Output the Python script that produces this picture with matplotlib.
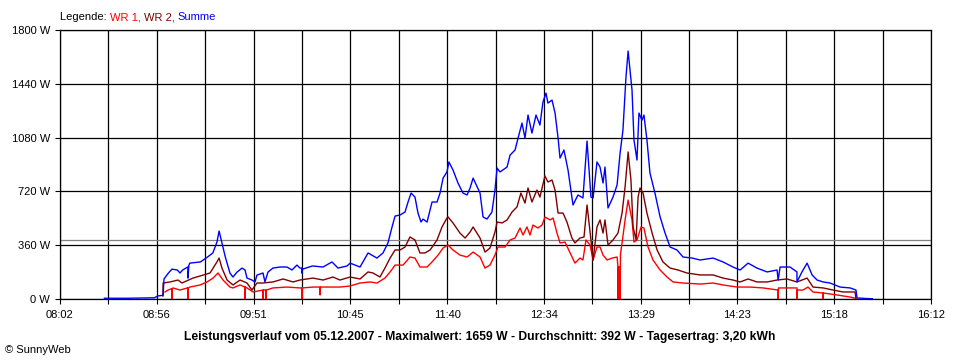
import numpy as np
import matplotlib
matplotlib.use("Agg")
import matplotlib.pyplot as plt

plt.rcParams['font.family'] = ['Liberation Sans', 'DejaVu Sans']

# x axis: minutes since midnight, y axis: power in W
tick_labels = ["08:02", "08:56", "09:51", "10:45", "11:40", "12:34", "13:29", "14:23", "15:18", "16:12"]
t_start, t_end = 482, 972
y_ticks = [0, 360, 720, 1080, 1440, 1800]
average_w = 392

# Summe (blue)
summe = [(507, 5), (520, 5), (535, 8), (537, 20), (540, 25), (540.5, 134), (543, 174), (545, 200),
         (548, 194), (549.5, 174), (551, 194), (554, 215), (554, 140), (554.5, 225), (555, 240),
         (561, 248), (565, 281), (568, 308), (570.3, 381), (571.5, 455), (573, 381), (575, 281),
         (577.6, 174), (579.3, 147), (581.6, 180), (584.4, 207), (586.1, 194), (587.2, 140),
         (590, 127), (591.7, 114), (592.8, 160), (596.2, 174), (597.3, 114), (599, 180),
         (601.8, 207), (605.8, 214), (609.7, 214), (612.5, 194), (615.3, 227), (617, 207),
         (618, 207), (618, 174), (618.5, 200), (624, 221), (630, 214), (635, 248), (638.4, 207),
         (643.5, 221), (645.2, 240), (650.8, 214), (655.3, 308), (660.3, 274), (663.7, 308),
         (666.5, 375), (668.8, 482), (670.5, 555), (673.3, 562), (676.1, 582), (677.8, 649),
         (679.5, 709), (681.7, 682), (683.4, 575), (685.1, 515), (686.2, 535), (688.5, 515),
         (691.3, 649), (694.1, 649), (695.8, 709), (697.5, 809), (699.7, 850), (700.8, 917),
         (703.1, 863), (705.9, 776), (708.7, 709), (711, 696), (712.7, 743), (714.4, 809),
         (718.3, 709), (720, 549), (722.2, 535), (725, 582), (726.7, 729), (727.9, 876),
         (729.5, 850), (733.5, 883), (735.2, 963), (738, 997), (739.7, 1077), (741.9, 1177),
         (743.6, 1077), (745.3, 1231), (747.5, 1110), (749.8, 1231), (752, 1164), (753.7, 1318),
         (755.4, 1378), (756.5, 1311), (758.8, 1331), (760.5, 1244), (762.2, 1077), (763.3, 943),
         (765.5, 997), (767.8, 863), (770.6, 629), (773.4, 696), (776.2, 676), (778.5, 1057),
         (780.7, 682), (781.9, 676), (784.1, 917), (785.8, 883), (787.5, 776), (788.6, 883),
         (790.3, 609), (793.1, 682), (795.4, 763), (797.1, 977), (798.7, 1130), (800.4, 1485),
         (801.6, 1659), (803.8, 1398), (804.9, 1064), (806.6, 930), (807.7, 1244), (809.4, 1197),
         (810.5, 1231), (812.2, 1064), (813.9, 843), (816.7, 709), (819.6, 549), (822.4, 441),
         (825.2, 348), (829.1, 328), (832.5, 281), (837.6, 274), (842.1, 261), (849.4, 274),
         (855, 248), (860.6, 214), (864.6, 194), (869.1, 240), (874.1, 207), (879.8, 181),
         (885.4, 194), (886, 127), (887.1, 214), (892.7, 214), (896.6, 181), (896.6, 114),
         (899.4, 181), (902.3, 240), (905.1, 161), (907.9, 127), (911.3, 114), (915.2, 107),
         (920.8, 80), (926.5, 74), (929.8, 60), (930.4, 7), (936, 3), (939, 2)]

# WR 2 (dark red)
wr2 = [(539.9, 20), (540, 107), (543.9, 114), (548.4, 127), (550.6, 107), (556.8, 140), (562.5, 160),
       (566.4, 174), (570.3, 248), (571.5, 274), (573.1, 207), (576, 127), (579.3, 94), (583.3, 127),
       (587.2, 107), (590, 60), (592.8, 107), (596.2, 107), (601.8, 114), (607.5, 134), (613.1, 114),
       (617, 127), (624.3, 140), (630, 127), (635.6, 147), (639.5, 127), (645.2, 147), (650.8, 134),
       (655.3, 181), (658.1, 174), (662, 147), (664.8, 207), (667.7, 274), (670.5, 328), (673.3, 328),
       (676.1, 348), (678.9, 415), (681.7, 395), (684.5, 308), (687.3, 308), (690.2, 328), (694.1, 395),
       (696.9, 482), (699.7, 542), (700.3, 549), (703.1, 509), (707, 441), (709.9, 408), (712.7, 448),
       (714.4, 482), (718.3, 408), (721.1, 314), (723.9, 341), (726.7, 448), (727.9, 515), (730.7, 509),
       (733.5, 529), (736.3, 582), (739.1, 616), (741.3, 709), (743.6, 642), (745.3, 743), (747.5, 649),
       (750.3, 729), (752, 682), (754.8, 823), (756.5, 783), (758.8, 796), (760.5, 729), (762.2, 575),
       (765, 575), (767.2, 515), (770, 408), (771.7, 375), (774.5, 408), (776.8, 415), (778.5, 629),
       (780.7, 395), (781.9, 261), (784.1, 482), (785.8, 529), (787.5, 441), (788.6, 529), (790.3, 361),
       (793.1, 395), (795.9, 441), (798.2, 575), (799.9, 750), (801.6, 984), (803.2, 796), (804.4, 482),
       (806.1, 395), (807.2, 682), (808.3, 743), (810, 709), (812.2, 575), (815.1, 441), (817.9, 328),
       (821.2, 248), (825.2, 207), (829.7, 194), (834.7, 174), (842.1, 161), (849.4, 161), (855, 140),
       (860.6, 127), (864.6, 114), (869.1, 134), (874.1, 114), (879.8, 114), (885.4, 127), (891, 134),
       (896.6, 114), (902.3, 140), (905.6, 80), (911.3, 74), (916.9, 60), (922.5, 47), (929.3, 47),
       (929.8, 0)]

# WR 1 (red)
wr1 = [(541.1, 47), (542.8, 60), (545, 70), (545, 0), (545.2, 70), (545.6, 74), (549.5, 60), (554, 75),
       (554, 0), (554.2, 75), (555.1, 80), (560.8, 94), (564.7, 114), (568.1, 140), (570.9, 174),
       (573.7, 127), (577.6, 80), (579.3, 74), (583.3, 94), (586.1, 80), (586.1, 0), (586.3, 80),
       (587.2, 74), (590.6, 47), (596.2, 60), (596.2, 0), (596.4, 60), (597.9, 60), (597.9, 0),
       (598.1, 60), (601.8, 74), (609.7, 80), (617, 74), (618.1, 74), (618.1, 0), (618.3, 74),
       (624.3, 80), (628.3, 80), (628.3, 27), (628.5, 80), (632.2, 80), (639.5, 80), (645.2, 87),
       (650.8, 107), (656.4, 114), (660.3, 107), (664.8, 140), (667.7, 181), (670.5, 227), (675, 227),
       (678.9, 281), (681.7, 274), (684.5, 214), (688.5, 214), (691.3, 248), (694.7, 294), (697.5, 341),
       (700.3, 361), (703.1, 328), (707, 294), (711, 281), (714.4, 314), (718.3, 281), (721.1, 207),
       (723.9, 227), (726.7, 294), (728.4, 348), (732.4, 348), (735.2, 395), (738, 408), (740.8, 475),
       (742.5, 428), (744.7, 482), (746.4, 428), (748.1, 495), (750.9, 475), (753.2, 495), (754.8, 549),
       (757.7, 529), (759.4, 542), (761.6, 441), (763.3, 375), (766.1, 381), (769, 308), (771.7, 240),
       (774.5, 274), (776.2, 261), (777.9, 395), (780.2, 361), (781.9, 261), (784.1, 348), (785.8, 348),
       (787.5, 294), (789.8, 261), (792.6, 274), (795.4, 281), (795.9, 214), (795.9, 0), (796.1, 214),
       (797.1, 214), (797.1, 0), (797.3, 300), (798.2, 375), (799.9, 529), (801.6, 662), (803.8, 529),
       (804.9, 381), (806.6, 395), (808.9, 482), (810.5, 475), (812.8, 348), (815.6, 261), (819.6, 194),
       (823.5, 147), (826.9, 114), (832.5, 107), (842.1, 100), (849.4, 107), (855, 94), (862.9, 80),
       (870.2, 80), (877.5, 74), (886, 60), (886, 0), (886.2, 74), (888.8, 74), (896.6, 74), (896.6, 0),
       (896.8, 60), (900, 60), (902.8, 80), (905.6, 47), (911.3, 40), (911.3, 0), (911.5, 40),
       (919.1, 27), (926.5, 13), (929.8, 5)]

fig = plt.figure(figsize=(9.6, 3.6), dpi=100)
ax = fig.add_axes([60 / 960, 1 - 299 / 360, 871 / 960, 269 / 360])

# grid: vertical every half label step, horizontal at labelled values
minor_x = np.linspace(t_start, t_end, 19)
major_x = np.linspace(t_start, t_end, 10)
for x in minor_x:
    ax.axvline(x, color='black', lw=0.9, zorder=1)
for y in y_ticks:
    ax.axhline(y, color='black', lw=0.9, zorder=1)
ax.axhline(average_w, color='#808080', lw=0.9, zorder=1)

for pts, col in [(wr1, '#ff0000'), (wr2, '#800000'), (summe, '#0000ff')]:
    t, p = zip(*pts)
    ax.plot(t, p, color=col, lw=1.0, zorder=3)

ax.set_xlim(t_start, t_end)
ax.set_ylim(0, 1800)
ax.set_xticks(major_x)
ax.set_xticklabels(tick_labels)
ax.set_xticks(minor_x, minor=True)
ax.set_yticks(y_ticks)
ax.set_yticklabels([f"{v} W" for v in y_ticks])
ax.tick_params(axis='both', which='both', direction='out', length=3.6, width=0.8,
               labelsize=8, color='black')
ax.tick_params(axis='x', pad=4)
ax.tick_params(axis='y', pad=3.5)
for s in ax.spines.values():
    s.set_linewidth(0.9)

# legend line made of coloured text pieces
fig.canvas.draw()
renderer = fig.canvas.get_renderer()
x_px = 60
for txt, col in [("Legende: ", 'black'), ("WR 1, ", '#ff0000'), ("WR 2, ", '#800000'), ("Summe", '#0000ff')]:
    t = fig.text(x_px / 960, 1 - 17 / 360, txt, color=col, fontsize=8, va='center', ha='left')
    bb = t.get_window_extent(renderer)
    x_px += bb.width

fig.text(0.5, 1 - 337 / 360,
         "Leistungsverlauf vom 05.12.2007 - Maximalwert: 1659 W - Durchschnitt: 392 W - Tagesertrag: 3,20 kWh",
         ha='center', va='center', fontsize=8.7, fontweight='bold')
fig.text(5 / 960, 1 - 350 / 360, "\u00a9 SunnyWeb", ha='left', va='center', fontsize=8)

fig.savefig("out.png", dpi=100)
